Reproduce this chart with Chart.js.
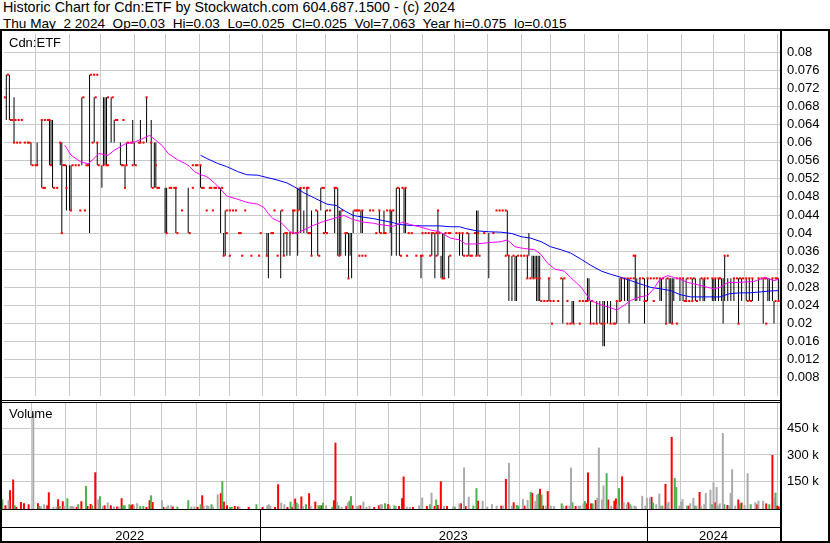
<!DOCTYPE html>
<html>
<head>
<meta charset="utf-8">
<title>Historic Chart for Cdn:ETF</title>
<script src="https://cdn.jsdelivr.net/npm/chart.js@4.4.0/dist/chart.umd.min.js"></script>
<style>
  html, body { margin: 0; padding: 0; background: #fff; }
  body { width: 830px; height: 543px; position: relative; overflow: hidden;
         font-family: 'Liberation Sans', Arial, sans-serif; font-size: 13px; color: #000; }
  .txt { position: absolute; white-space: pre; line-height: 13px; }
  .rule { position: absolute; background: #000; }
  canvas { position: absolute; left: 0; }
</style>
</head>
<body>
<div class="txt" style="left:3px;top:1px;font-size:14.3px">Historic Chart for Cdn:ETF by Stockwatch.com 604.687.1500 - (c) 2024</div>
<div class="txt" style="left:3px;top:16.5px;font-size:13.6px">Thu May  2 2024  Op=0.03  Hi=0.03  Lo=0.025  Cl=0.025  Vol=7,063  Year hi=0.075  lo=0.015</div>

<canvas id="priceChart" width="830" height="370" style="top:30px"></canvas>
<canvas id="volumeChart" width="830" height="107" style="top:402px"></canvas>

<div class="txt" style="left:9px;top:36px">Cdn:ETF</div>
<div class="txt" style="left:9px;top:407px">Volume</div>

<!-- frame -->
<div class="rule" style="left:0;top:29px;width:830px;height:2px"></div>
<div class="rule" style="left:0;top:29px;width:2px;height:514px"></div>
<div class="rule" style="left:780px;top:29px;width:2px;height:514px"></div>
<div class="rule" style="left:828px;top:29px;width:2px;height:514px"></div>
<div class="rule" style="left:0;top:400px;width:782px;height:1px"></div>
<div class="rule" style="left:0;top:402px;width:782px;height:1px"></div>
<div class="rule" style="left:0;top:509px;width:782px;height:1px"></div>
<div class="rule" style="left:0;top:527px;width:782px;height:1px"></div>
<div class="rule" style="left:0;top:541px;width:830px;height:2px"></div>

<script>
// x values are trading days counted from Mon May 2 2022 (day 0)
// prices in cents, volumes in thousands

// month start days (grid lines)
const monthStartDays = [21, 43, 63, 85, 105, 127, 147, 168, 190, 209, 230, 251, 272, 293, 314, 336, 355, 377, 399, 418, 440, 461, 481, 502];
const yearStartDays = [168, 418];
const yearLabels = ['2022', '2023', '2024'];

const priceTicks = [0.08, 0.076, 0.072, 0.068, 0.064, 0.06, 0.056, 0.052, 0.048, 0.044, 0.04, 0.036, 0.032, 0.028, 0.024, 0.02, 0.016, 0.012, 0.008];
const volumeTicks = [150, 300, 450];

// [day, low, high]
const dayBars = [
  [2,6.5,7.5],[4,6.5,7.5],[7,6,7],[18,5.5,6],[22,5.5,6],[25,5,6.5],[30,5.5,6.5],[31,5.5,6.5],[32,5,6.5],[37,5.5,6],[38,4,6],[41,4.5,5.5],[43,4.5,5.5],[44,4.5,5.5],[51,5.5,7],[56,4,7.5],[59,6,7],[61,5.5,6],[64,5,5.5],
  [65,5.5,7],[66,5.5,7],[67,5.5,7],[70,6,7],[72,6,6.5],[76,5.5,6],[79,5,5.5],[80,5.5,6],[84,6,6.5],[85,5.5,6],[89,6,6.5],[93,6,7],[96,5,6.5],[98,5,6],[99,5,6],[105,4,5],[106,4,5],[112,4,5],[120,4,5],
  [128,5,5.5],[141,4,5],[143,3.5,4],[144,3.5,4.5],[171,3.5,4],[172,3,4],[180,3,4.5],[182,3.5,4],[184,3.5,4],[186,3.5,4],[188,4,4.5],
  [191,3.5,5],[192,4.5,5],[193,4,5],[195,4,4.5],[197,4,5],[200,3.5,4.5],[204,3.5,4.5],[206,4.5,5],[209,4,4.5],[215,4,5],[217,3.5,5],[218,3.5,4.5],[219,3.5,4.5],[222,3.5,4],[224,3,4],[225,3.5,4],[226,3,4],[227,4,4.5],[232,4,4.5],[233,4,4.5],[244,4,4.5],[247,4,4.5],[251,4,4.5],[252,3.5,4.5],
  [255,3.5,5],[257,3.5,5],[260,4,5],[261,4,5],[271,3,3.5],[278,3.5,4],[280,3,4],[282,3.5,4.5],[284,3,3.5],[285,3,4],[286,3,4],[289,3,3.5],[296,3.5,4],[298,3.5,4],[302,3.5,4],[307,3.5,4.5],[308,3.5,4.5],
  [315,3,4],[327,3.5,4.5],[328,2.5,3.5],[330,2.5,3.5],[332,2.5,3.5],[333,2.5,3.5],[340,3,3.5],[341,3.5,4],[343,3,3.5],[344,3,3.5],[345,3,3.5],[346,2.5,3.5],[347,2.5,3.5],[348,2.5,3.5],[354,2.5,3],[363,2,3],[369,2,2.5],[370,2,2.5],[379,2.5,3],[380,2.5,3],[381,2,2.5],[385,2,2.5],[387,2,2.5],[389,1.5,2.5],[390,1.5,2.5],[392,2,2.5],[394,2,2.5],[398,2,2.5],
  [400,2.5,3],[401,2.5,3],[403,2.5,3],[405,2.5,3],[406,2,3],[410,2.5,3.5],[411,2.5,3],[413,2.5,3],[416,2,3],[418,2.5,3],[426,2.5,3],[427,2.5,3],[430,2,3],[432,2,3],[433,2,3],[434,2,3],[435,2.5,3],[439,2.5,3],[441,2.5,3],[443,2.5,3],[447,2.5,3],[449,2.5,3],[452,2.5,3],[454,2.5,3],[455,2.5,3],
  [460,2.5,3],[461,2.5,3],[462,2.5,3],[464,2.5,3],[466,2.5,3],[467,2,3],[468,2.5,3.5],[470,2.5,3],[472,2.5,3],[474,2.5,3],[477,2,3],[479,2.5,3],[482,2.5,3],[484,2.5,3],[486,2.5,3],[490,2.5,3],[493,2,3],[496,2.5,3],[497,2.5,3],[499,2.5,3],[500,2,2.5],[503,2.5,3]
];

// red ticks [day, price]
const closeTicks = [
  [1,7],[3,7.5],[5,6.5],[6,6.5],[8,6.5],[10,6.5],[12,6.5],[7,6],[9,6],[11,6],[14,6],[16,6],[17,6],[19,5.5],[21,5.5],[22,5.5],[25,6.5],[27,6.5],[29,6.5],[30,6.5],[26,5],[27,5],[31,5.5],[33,5],[35,5],[37,6],[38,4],[39,5.5],[40,5.5],[41,5],[44,4.5],[45,5.5],[47,5.5],[49,5.5],[50,4.5],[53,4.5],[52,7],[54,5.5],[55,5.5],[57,7.5],[59,7.5],[61,7.5],[58,6],[60,7],[61,6],[62,5.5],
  [65,5.5],[67,5.5],[68,5.5],[68,7],[71,7],[73,6.5],[74,6.5],[78,6.5],[77,5.5],[78,5.5],[80,5.5],[79,5],[81,6],[83,6],[84,6],[84,5.5],[86,5.5],[88,6],[89,6],[91,6],[93,7],[96,6],[97,5],[99,5.5],[100,5],[101,5],[106,4],[108,5],[109,5],[111,5],[112,5],[113,4],[116,4.5],[121,4],[123,5],[123,5.5],[125,5.5],[126,5.5],[128,5.5],
  [129,5],[130,5],[134,5],[135,5],[137,5],[138,5],[140,5],[142,5],[132,4.5],[136,4.5],[143,3.5],[145,4.5],[147,4.5],[145,4],[147,3.5],[155,3.5],[161,3.5],[166,3.5],[171,3.5],[149,4.5],[151,4.5],[157,4.5],[153,4],[154,4],[167,4],[174,4],[175,4],[176,4.5],[181,4.5],[178,3.5],[182,3.5],[183,4],[184,4],[186,4],[188,4],[190,4],[188,4.5],[189,4.5],[191,4.5],
  [193,5],[195,5],[197,5],[198,5],[198,4],[199,4],[200,3.5],[203,4.5],[205,3.5],[207,5],[208,5],[208,4],[210,4],[210,4.5],[212,4.5],[215,5],[216,5],[218,3.5],[220,4.5],[222,4],[223,4],[224,3],[228,4.5],[229,4.5],[230,4.5],[231,4.5],[233,4.5],[238,4.5],[240,4.5],[244,4.5],[249,4.5],[251,4.5],[231,3.5],[233,3.5],[235,3.5],[242,4],[245,4],[247,4],[248,4],
  [253,4.5],[256,5],[258,3.5],[259,5],[261,5],[262,3.5],[263,4],[265,4],[268,3.5],[271,3.5],[272,3.5],[272,4],[274,4],[276,4],[278,4],[279,4],[281,4],[283,4],[287,4],[289,4],[290,4],[294,4],[296,4],[298,4],[301,4],[306,4],[312,4],[277,3.5],[281,3.5],[282,4.5],[285,3],[286,3],[290,3.5],[299,3.5],[301,3.5],[303,3.5],[304,3.5],[307,3.5],[309,3.5],[308,4],
  [318,4],[320,4.5],[322,4.5],[324,4.5],[326,4.5],[326,3.5],[328,3.5],[331,3.5],[334,3.5],[336,3.5],[338,3.5],[340,3.5],[340,3],[342,3],[344,3],[346,3],[348,3],[349,2.5],[351,2.5],[353,2.5],[355,2.5],[357,2.5],[360,2.5],[354,3],[356,2],[362,3],[364,3],[366,2.5],[366,2],[368,2],[370,2],[374,2],[374,2.5],[376,2.5],[378,2.5],[379,2.5],[381,2],[383,2],[382,2.5],[385,2],[388,2],[390,2],[394,2],[396,2],[397,2],[398,2.5],[400,2.5],
  [401,3],[403,3],[405,3],[407,3],[409,3],[409,3.5],[410,3.5],[413,3],[415,3],[418,3],[420,3],[422,3],[424,3],[416,2.5],[417,2.5],[422,2.5],[426,3],[428,3],[431,3],[430,2],[434,2],[437,2],[437,3],[439,3],[441,3],[444,3],[446,3],[448,3],[442,2.5],[443,2.5],[445,2.5],[447,2.5],[450,2.5],
  [453,3],[455,3],[457,3],[460,3],[462,3],[464,3],[465,3],[468,3.5],[470,3.5],[474,3],[476,3],[478,3],[480,3],[482,3],[484,3],[486,3],[477,2],[483,2.5],[485,2.5],[490,3],[492,3],[494,3],[495,3],[495,2],[499,3],[501,3],[502,3],[501,2.5],[503,2.5]
];

// moving averages [day, price]
const maShort = [
  [40,5.94],[44,5.72],[50,5.58],[55,5.53],[59,5.65],[62,5.76],[65,5.74],[68,5.72],[72,5.83],[79,5.97],[85,6.01],[90,6.08],[95,6.16],[99,6.05],[103,5.94],[107,5.76],[113,5.62],[118,5.54],[121,5.47],[124,5.36],[128,5.29],
  [132,5.25],[137,5.11],[141,4.97],[145,4.82],[152,4.75],[158,4.68],[165,4.64],[169,4.57],[172,4.43],[175,4.32],[180,4.24],[183,4.14],[186,4.03],[190,3.99],[195,4.07],[201,4.17],[208,4.26],[214,4.32],[221,4.39],
  [227,4.30],[234,4.24],[240,4.22],[244,4.19],[253,4.15],[259,4.24],[264,4.19],[270,4.14],[277,4.07],[283,4.03],[290,3.89],[296,3.85],[300,3.76],[307,3.76],[315,3.79],[323,3.81],[327,3.85],[332,3.70],[336,3.67],
  [345,3.63],[349,3.52],[353,3.34],[358,3.20],[364,3.16],[368,3.02],[375,2.80],[381,2.51],[388,2.41],[394,2.35],[398,2.30],[403,2.41],[407,2.51],[413,2.59],[418,2.62],[422,2.77],[426,2.98],[431,3.06],[435,3.02],
  [439,2.98],[444,2.91],[448,2.88],[457,2.80],[461,2.77],[465,2.80],[470,2.91],[476,2.91],[487,2.93],[491,2.98],[494,3.02],[500,2.95],[503,2.98]
];
const maLong = [
  [128,5.72],[132,5.65],[139,5.54],[145,5.47],[152,5.36],[158,5.29],[165,5.28],[171,5.23],[177,5.18],[184,5.11],[190,5.00],[195,4.89],[201,4.79],[210,4.64],[216,4.61],[221,4.50],[227,4.39],[234,4.35],[240,4.32],
  [246,4.28],[253,4.23],[257,4.19],[264,4.17],[272,4.16],[283,4.16],[290,4.14],[296,4.14],[300,4.10],[307,4.05],[315,4.03],[323,4.02],[330,3.99],[336,3.92],[342,3.89],[349,3.81],[355,3.70],[362,3.63],[368,3.56],
  [375,3.42],[381,3.29],[388,3.16],[394,3.09],[401,3.02],[407,2.95],[413,2.88],[420,2.80],[426,2.77],[433,2.73],[439,2.64],[446,2.59],[452,2.59],[458,2.59],[465,2.59],[471,2.66],[478,2.68],[484,2.68],[491,2.70],[497,2.72],[503,2.73]
];

// volume [day, thousands] split by colour
const downVolume = [
  [4,13],[7,99],[9,160],[11,4],[14,32],[16,25],[19,19],[25,25],[31,13],[32,87],[38,47],[41,36],[50,4],[53,36],[57,9],[59,21],[62,201],[68,13],[72,13],[76,6],[79,53],[85,13],[86,19],[95,4],[97,42],[99,32],[106,4],[112,6],
  [128,4],[131,70],[143,82],[145,34],[147,13],[152,9],[154,6],[161,4],[170,4],[178,4],[180,133],[186,4],[189,4],[191,51],[195,63],[200,82],[204,34],[208,13],[216,42],[217,370],[224,9],[228,13],[233,13],[242,4],[245,13],
  [251,19],[258,9],[260,53],[261,177],[267,4],[276,9],[281,9],[283,15],[285,150],[289,9],[298,24],[301,9],[309,39],[324,11],[327,163],[332,30],[339,11],[344,83],[349,107],[351,11],[354,94],[366,11],[372,9],[379,24],
  [380,200],[382,24],[385,43],[393,46],[397,39],[398,52],[402,178],[406,30],[421,61],[430,135],[434,403],[445,11],[452,89],[462,30],[470,15],[477,46],[479,28],[489,19],[495,24],[499,300],[502,11],[503,7]
];
const upVolume = [
  [2,47],[10,13],[26,9],[39,9],[44,53],[51,19],[56,123],[60,13],[65,65],[80,13],[81,13],[84,19],[91,9],[93,9],[98,70],[115,6],[122,42],[130,19],[137,19],[144,150],[149,4],[150,4],[166,19],[188,34],[192,28],[198,19],
  [206,13],[207,13],[209,28],[215,4],[219,13],[226,38],[227,65],[249,25],[255,13],[278,19],[282,46],[294,6],[306,11],[308,111],[334,15],[335,11],[343,89],[348,80],[350,74],[363,24],[370,30],[378,37],[383,24],[392,196],
  [400,111],[407,19],[422,28],[428,11],[436,168],[437,117],[444,11],[449,11],[460,19],[468,19],[478,19],[485,19],[497,19],[501,85]
];
const flatVolume = [
  [6,42],[22,540],[27,6],[29,19],[35,4],[37,6],[42,9],[46,9],[47,9],[48,6],[64,47],[67,9],[70,30],[74,6],[77,6],[87,13],[89,25],[105,42],[108,4],[109,13],[111,13],[124,6],[126,6],[132,9],[134,13],[135,9],[138,6],[141,76],
  [155,6],[173,13],[174,19],[175,9],[182,28],[184,19],[190,19],[193,19],[196,9],[201,9],[211,13],[218,34],[221,4],[225,28],[231,9],[232,13],[235,34],[237,4],[239,9],[246,19],[247,19],[252,13],[256,9],[263,6],[265,4],[271,13],
  [273,57],[279,85],[287,9],[293,6],[297,24],[300,228],[303,61],[312,39],[315,6],[318,19],[321,11],[325,11],[329,255],[331,11],[338,48],[341,43],[346,37],[347,74],[353,11],[356,11],[358,9],[364,11],[368,11],[369,228],
  [374,11],[375,11],[377,24],[386,56],[387,342],[389,46],[390,126],[395,11],[399,19],[403,30],[405,19],[408,11],[410,11],[411,6],[415,67],[417,11],[418,56],[420,56],[424,19],[426,80],[427,11],[431,24],[432,33],[439,11],
  [440,33],[441,48],[446,24],[448,56],[450,11],[453,11],[455,19],[456,83],[459,102],[461,144],[463,117],[464,11],[465,24],[467,425],[471,11],[472,83],[473,218],[475,11],[481,15],[483,196],[488,30],[490,39],[493,39],[500,56]
];

Chart.defaults.font.family = "'Liberation Sans', Arial, sans-serif";
Chart.defaults.font.size = 13;
Chart.defaults.color = '#000';

const gridColor = '#c8c8c8';

function timeAxis() {
  return {
    type: 'linear', min: 0.5, max: 503.9, offset: false,
    grid: { color: gridColor, drawTicks: false, offset: false },
    border: { display: false },
    ticks: { display: false },
    afterBuildTicks: s => { s.ticks = monthStartDays.map(v => ({ value: v })); },
    afterFit: s => { s.height = 0; }
  };
}

function valueAxis(min, max, tickValues, format) {
  return {
    position: 'right', min: min, max: max,
    grid: { color: gridColor, drawTicks: false },
    border: { display: false },
    ticks: { padding: 7, autoSkip: false, callback: format },
    afterBuildTicks: s => { s.ticks = tickValues.map(v => ({ value: v })); },
    afterFit: s => { s.width = 50; s.paddingTop = 0; s.paddingBottom = 0; }
  };
}

const baseOptions = {
  responsive: false,
  animation: false,
  events: [],
  layout: { padding: 0 },
  plugins: { legend: { display: false }, tooltip: { enabled: false } }
};

// Price chart
const priceChart = new Chart(document.getElementById('priceChart'), {
  data: {
    datasets: [
      {
        type: 'line',
        data: maShort.map(p => ({ x: p[0], y: p[1] / 100 })),
        borderColor: '#ff00ff', borderWidth: 1, pointRadius: 0, tension: 0, order: 0
      },
      {
        type: 'line',
        data: maLong.map(p => ({ x: p[0], y: p[1] / 100 })),
        borderColor: '#0000ff', borderWidth: 1, pointRadius: 0, tension: 0, order: 0
      },
      {
        type: 'scatter',
        data: closeTicks.map(p => ({ x: p[0], y: p[1] / 100 })),
        pointStyle: 'rect', pointRadius: 1.45, pointBorderWidth: 0,
        pointBackgroundColor: '#ff0000', backgroundColor: '#ff0000', order: 1
      },
      {
        type: 'bar',
        data: dayBars.map(b => ({ x: b[0], y: [b[1] / 100, b[2] / 100] })),
        backgroundColor: '#000', borderWidth: 0, barThickness: 1, inflateAmount: 0, order: 2
      }
    ]
  },
  options: Object.assign({}, baseOptions, {
    scales: {
      x: timeAxis(),
      y: valueAxis(0.004, 0.084, priceTicks, v => String(v))
    }
  })
});

// Volume chart
function volumeSet(rows, colour) {
  return {
    type: 'bar',
    data: rows.map(v => ({ x: v[0], y: v[1] * 1000 })),
    backgroundColor: colour, borderWidth: 0, barThickness: 2, inflateAmount: 0, grouped: false, base: -8000
  };
}

const volumeChart = new Chart(document.getElementById('volumeChart'), {
  data: {
    datasets: [
      volumeSet(flatVolume, '#aaaaaa'),
      volumeSet(upVolume, '#4cb34c'),
      volumeSet(downVolume, '#ff0000')
    ]
  },
  options: Object.assign({}, baseOptions, {
    scales: {
      x: timeAxis(),
      y: valueAxis(-8000, 602000, volumeTicks.map(v => v * 1000), v => (v / 1000) + ' k')
    }
  })
});

// Year row under the volume panel
const xs = volumeChart.scales.x;
const edges = [xs.left].concat(yearStartDays.map(d => xs.getPixelForValue(d)), [xs.right]);
yearLabels.forEach((label, i) => {
  const el = document.createElement('div');
  el.className = 'txt';
  el.textContent = label;
  el.style.top = '529px';
  el.style.left = ((edges[i] + edges[i + 1]) / 2) + 'px';
  el.style.transform = 'translateX(-50%)';
  document.body.appendChild(el);
});
yearStartDays.forEach(d => {
  const r = document.createElement('div');
  r.className = 'rule';
  r.style.left = Math.round(xs.getPixelForValue(d)) + 'px';
  r.style.top = '509px';
  r.style.width = '1px';
  r.style.height = '33px';
  document.body.appendChild(r);
});
</script>
</body>
</html>
